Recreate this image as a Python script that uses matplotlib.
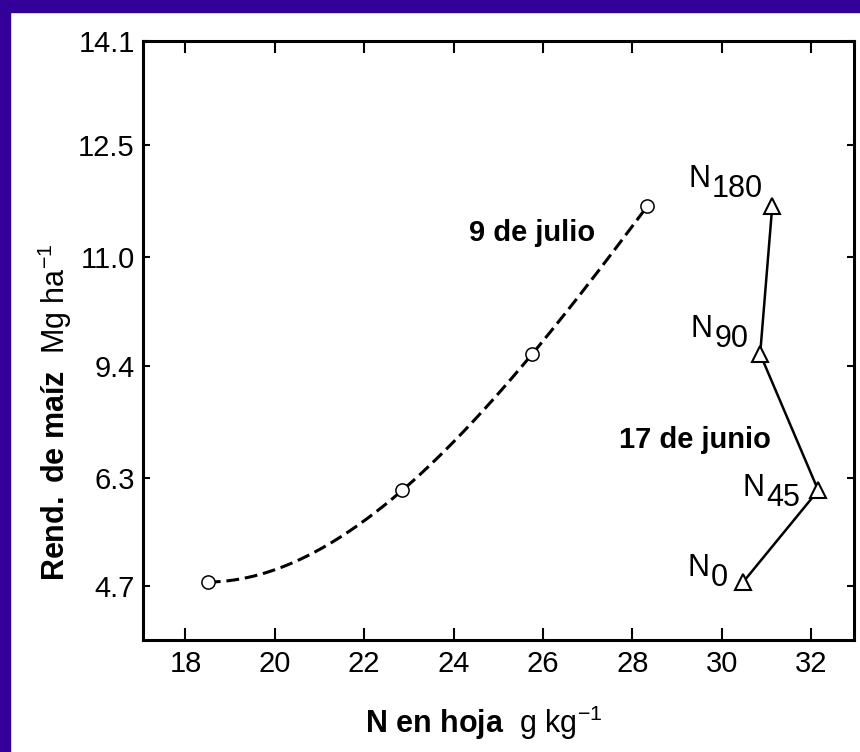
import numpy as np
import matplotlib
matplotlib.use("Agg")
import matplotlib.pyplot as plt
from matplotlib import font_manager
from matplotlib.patches import Rectangle

# ---------------- data ----------------
yield_vals = [4.76, 6.12, 9.58, 11.68]          # Mg/ha for N0, N45, N90, N180
n_labels = ["0", "45", "90", "180"]
julio_N = [18.50, 22.85, 25.76, 28.33]         # 9 de julio, leaf N g/kg
junio_N = [30.48, 32.16, 30.86, 31.13]         # 17 de junio, leaf N g/kg
x_ticks = [18, 20, 22, 24, 26, 28, 30, 32]
y_ticks = [4.7, 6.3, 9.4, 11.0, 12.5, 14.1]
y_tick_labels = ["4.7", "6.3", "9.4", "11.0", "12.5", "14.1"]

# ---------------- fonts ----------------
names = {f.name for f in font_manager.fontManager.ttflist}
fam = "Liberation Sans Narrow" if "Liberation Sans Narrow" in names else "Liberation Sans"
plt.rcParams["font.family"] = [fam, "DejaVu Sans"]
plt.rcParams["mathtext.fontset"] = "custom"
plt.rcParams["mathtext.rm"] = fam
plt.rcParams["mathtext.it"] = fam + ":italic"
plt.rcParams["mathtext.bf"] = fam + ":bold"

W, H = 860, 752
fig = plt.figure(figsize=(W / 100, H / 100), dpi=100)
fig.patch.set_facecolor("white")
# purple frame (left and top)
fig.patches.append(Rectangle((0, 0), 10 / W, 1, transform=fig.transFigure,
                             color="#330099", zorder=0))
fig.patches.append(Rectangle((0, 1 - 12 / H), 1, 12 / H, transform=fig.transFigure,
                             color="#330099", zorder=0))

L, R, T, B = 143, 854, 41, 640
ax = fig.add_axes([L / W, (H - B) / H, (R - L) / W, (B - T) / H])

# non-linear y axis: tick values evenly placed as in the original figure
scale_vals = np.array([3.9, 4.7, 6.3, 9.4, 11.0, 12.5, 14.1])
scale_pos = np.array([0.0, 0.090, 0.270, 0.457, 0.639, 0.826, 1.0])
fwd = lambda v: np.interp(v, scale_vals, scale_pos)
inv = lambda p: np.interp(p, scale_pos, scale_vals)
ax.set_yscale("function", functions=(fwd, inv))
ax.set_ylim(3.9, 14.1)
ax.set_xlim(17.05, 32.96)

# 9 de julio: smooth dashed curve through circles (drawn in display-position space)
p = fwd(np.array(yield_vals))
coef = np.polyfit(julio_N, p, 3)
xs = np.linspace(min(julio_N), max(julio_N), 200)
ax.plot(xs, inv(np.polyval(coef, xs)), color="black", lw=2.2,
        dashes=(4.2, 1.9), zorder=2)
ax.plot(julio_N, yield_vals, ls="none", marker="o", ms=9.5, mfc="white",
        mec="black", mew=1.1, zorder=3)

# 17 de junio: solid line with triangles
ax.plot(junio_N, yield_vals, color="black", lw=1.8, zorder=2)
ax.plot(junio_N, yield_vals, ls="none", marker="^", ms=12, mfc="white",
        mec="black", mew=1.5, zorder=3)

# N labels (offsets in px: right edge of digits, centre of digits)
px = 0.72
offs = [(-15, 4), (-18, -8), (-12, 15), (-9, 17)]
for xv, yv, lab, (dx, dy) in zip(junio_N, yield_vals, n_labels, offs):
    t = ax.annotate(lab, (xv, yv), xytext=(dx * px, dy * px),
                    textcoords="offset points", ha="right", va="center",
                    fontsize=22, zorder=4)
    ax.annotate("N", (0, 0.5), xycoords=t, xytext=(-2 * px, 10 * px),
                textcoords="offset points", ha="right", va="center",
                fontsize=22, zorder=4)

ax.text(532, 233, "9 de julio", transform=None, fontsize=21, fontweight="bold",
        ha="center", va="center")
# transform=None uses pixel coords from bottom; convert
for t in ax.texts[-1:]:
    t.set_transform(fig.dpi_scale_trans)
    t.set_position((532 / 100, (H - 233) / 100))
t2 = ax.text(695 / 100, (H - 440) / 100, "17 de junio", fontsize=21,
             fontweight="bold", ha="center", va="center",
             transform=fig.dpi_scale_trans)

# ticks
ax.set_xticks(x_ticks)
ax.set_xticklabels([str(v) for v in x_ticks])
ax.set_yticks(y_ticks)
ax.set_yticklabels(y_tick_labels)
ax.yaxis.set_minor_locator(matplotlib.ticker.NullLocator())
ax.tick_params(axis="x", direction="in", length=8.5, width=1.5, top=True,
               labelsize=21, pad=7)
ax.tick_params(axis="y", direction="in", length=5, width=1.5, right=True,
               labelsize=21, pad=6)
for s in ax.spines.values():
    s.set_linewidth(2.2)

# axis titles
fig.text(484 / W, 1 - 723 / H, r"$\mathbf{N\ en\ hoja}$  g kg$^{-1}$",
         fontsize=22, ha="center", va="center")
fig.text(55 / W, 1 - 412 / H, r"$\mathbf{Rend.\ de\ maíz}$  Mg ha$^{-1}$",
         fontsize=22, ha="center", va="center", rotation=90)

fig.savefig("out.png", dpi=100, facecolor="white")
